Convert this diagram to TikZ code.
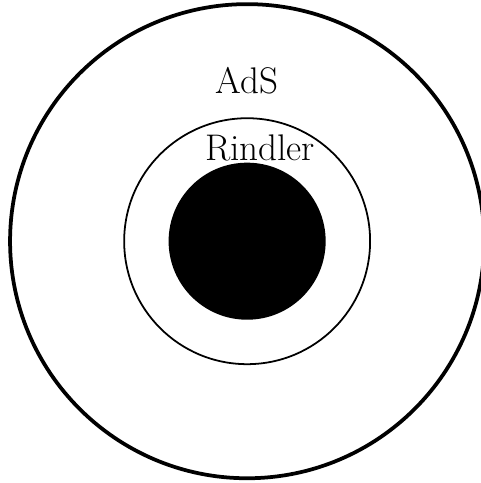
\documentclass[tikz,border=0pt]{standalone}
\usepackage{tikz}
\usetikzlibrary{positioning}

\begin{document}
\begin{tikzpicture}[font=\fontsize{17.8}{21}\selectfont,
    ring/.style={circle, draw, inner sep=0pt}]
    \useasboundingbox (-4.17,-4.08) rectangle (3.93,4.07);
    \node[ring, line width=1.8pt, minimum size=8cm] (ads) at (0,0) {};
    \node[ring, line width=0.85pt, minimum size=4.15cm] (rindler) at (0,0) {};
    \node[circle, fill=black, inner sep=0pt, minimum size=2.65cm] (hole) at (0,0) {};
    \node (adslabel) at (0,2.7) {AdS};
    \node (rindlerlabel) at (0.22,1.57) {Rindler};
  \end{tikzpicture}
\end{document}
